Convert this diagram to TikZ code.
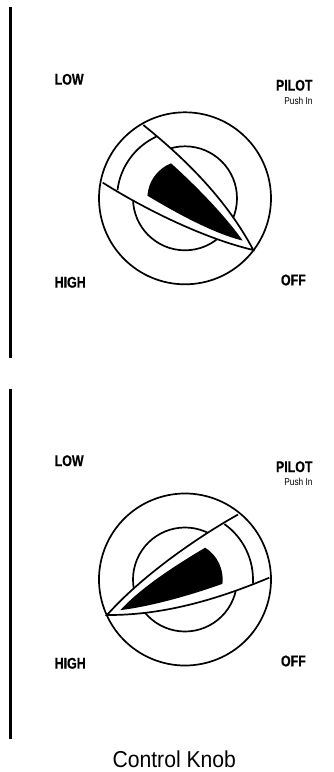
\documentclass[tikz,border=0pt]{standalone}
\usepackage{fontspec}
\newfontfamily\knobfont[FakeStretch=0.83,BoldFeatures={FakeStretch=0.8,FakeBold=0.6}]{Liberation Sans}
\newfontfamily\titlefont[FakeStretch=0.92]{Liberation Sans}
\tikzset{
  knob/.pic={
    \draw[dialline] (0,0) circle (86);
    \draw[dialline] (0,0) circle (52);
    \fill[white] (-41.7,73.3) .. controls (1.7,38.3) and (41.7,-1.7) .. (68.3,-51.7)
      .. controls (18.3,-40) and (-41.7,-10) .. (-82.3,15.7) -- cycle;
    \draw[dialline] (-41.7,73.3) .. controls (1.7,38.3) and (41.7,-1.7) .. (68.3,-51.7)
      .. controls (18.3,-40) and (-41.7,-10) .. (-82.3,15.7);
    \draw[dialline] (115:68) arc (115:173:68);
    \fill[black] (111.8:37.7) .. controls (8.3,15) and (38.3,-15) .. (57.7,-42.3)
      .. controls (28.3,-35) and (-8.3,-15) .. (176:37.7) arc (176:111.8:37.7) -- cycle;
  }
}
\begin{document}
\begin{tikzpicture}[x=1pt,y=1pt,
    dialline/.style={line width=1.7pt},
    bar/.style={line width=3.3pt},
    bold/.style={font=\knobfont\fontsize{15.5}{15.5}\selectfont\bfseries, inner sep=0pt},
    small/.style={font=\knobfont\fontsize{10}{10}\selectfont, inner sep=0pt},
    caption/.style={font=\titlefont\fontsize{23}{23}\selectfont, inner sep=0pt}]
  \useasboundingbox (0,0) rectangle (333,-772);
  % top knob
  \draw[bar] (10.7,-7) -- (10.7,-357.5);
  \pic at (185,-198.3) {knob};
  \node[bold,anchor=west] (lowa) at (54.5,-79.3) {LOW};
  \node[bold,anchor=east] (pilota) at (312.7,-85.3) {PILOT};
  \node[small,anchor=east] (pusha) at (312.7,-100.7) {Push In};
  \node[bold,anchor=west] (higha) at (54.5,-282.3) {HIGH};
  \node[bold,anchor=east] (offa) at (306,-280) {OFF};
  % bottom knob
  \draw[bar] (10.7,-388.5) -- (10.7,-739);
  \pic[rotate=-118.4] at (185,-579.5) {knob};
  \node[bold,anchor=west] (lowb) at (54.5,-460.7) {LOW};
  \node[bold,anchor=east] (pilotb) at (312.7,-466.7) {PILOT};
  \node[small,anchor=east] (pushb) at (312.7,-481.7) {Push In};
  \node[bold,anchor=west] (highb) at (54.5,-663.3) {HIGH};
  \node[bold,anchor=east] (offb) at (306,-661) {OFF};
  \node[caption] (title) at (174.3,-759.5) {Control Knob};
\end{tikzpicture}
\end{document}
